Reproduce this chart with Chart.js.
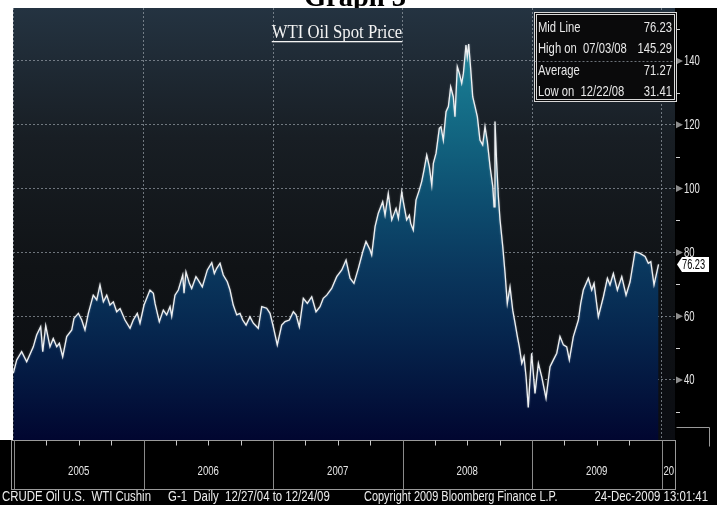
<!DOCTYPE html>
<html>
<head>
<meta charset="utf-8">
<script src="https://cdn.jsdelivr.net/npm/chart.js@4.4.1/dist/chart.umd.min.js"></script>
<style>
  html, body { margin: 0; padding: 0; background: #ffffff; }
  #wrap { position: relative; width: 717px; height: 505px; overflow: hidden; }
  canvas { display: block; }
</style>
</head>
<body>
<div id="wrap"><canvas id="c" width="717" height="505"></canvas></div>
<script>
// ---- data (x = decimal year, y = USD/bbl) ----
const dates2005 = [2004.995,2005.021,2005.059,2005.098,2005.149,2005.175,2005.206,2005.222,2005.245,2005.278,
  2005.303,2005.330,2005.350,2005.376,2005.407,2005.446,2005.463,2005.497,2005.523,2005.548,
  2005.574,2005.612,2005.639,2005.664,2005.690,2005.716,2005.741,2005.767,2005.793,2005.819,
  2005.857,2005.896,2005.921,2005.952,2005.973];
const prices2005 = [42.2,46.3,48.9,45.7,50.4,54.1,56.7,48.9,57.0,50.4,
  53.0,50.4,51.5,47.3,53.6,55.7,59.3,60.9,58.8,55.7,
  60.9,66.6,65.1,69.8,64.5,66.6,63.5,64.5,61.4,62.4,
  58.8,56.2,58.8,60.9,57.8];
const dates2006 = [2006.004,2006.050,2006.076,2006.089,2006.122,2006.153,2006.179,2006.205,2006.218,2006.243,
  2006.269,2006.303,2006.313,2006.328,2006.354,2006.372,2006.405,2006.423,2006.454,2006.493,
  2006.527,2006.547,2006.565,2006.591,2006.616,2006.647,2006.668,2006.693,2006.720,2006.745,
  2006.766,2006.792,2006.822,2006.848,2006.886,2006.913,2006.951,2006.977];
const prices2006 = [63.5,68.2,67.2,64.0,58.3,61.9,60.4,63.0,60.0,66.6,
  68.2,72.9,67.2,73.9,70.3,68.7,72.4,71.3,69.2,74.5,
  76.8,73.4,75.0,76.6,72.9,70.8,68.2,63.5,60.4,60.9,
  58.8,57.2,59.8,57.8,56.2,63.0,62.5,60.9];
const dates2007 = [2007.002,2007.033,2007.067,2007.093,2007.126,2007.157,2007.178,2007.203,2007.234,2007.265,
  2007.299,2007.332,2007.363,2007.388,2007.415,2007.453,2007.492,2007.531,2007.564,2007.595,
  2007.625,2007.659,2007.693,2007.718,2007.749,2007.762,2007.788,2007.813,2007.847,2007.865,
  2007.890,2007.917,2007.950,2007.968,2007.994];
const prices2007 = [56.7,51.0,57.2,58.3,58.8,61.4,60.4,56.7,65.6,64.0,
  66.1,61.4,63.0,65.6,66.6,68.7,72.4,74.5,77.6,71.9,
  70.3,75.0,80.2,83.4,80.8,79.2,88.1,92.3,95.9,91.7,
  98.5,90.2,93.8,90.7,99.0];
const dates2008 = [2008.006,2008.032,2008.053,2008.063,2008.083,2008.104,2008.130,2008.148,2008.166,2008.187,
  2008.207,2008.226,2008.238,2008.259,2008.284,2008.297,2008.315,2008.336,2008.354,2008.372,
  2008.392,2008.405,2008.423,2008.439,2008.457,2008.470,2008.490,2008.500,2008.511,2008.527,
  2008.542,2008.560,2008.578,2008.598,2008.619,2008.637,2008.655,2008.676,2008.697,2008.707,
  2008.714,2008.727,2008.740,2008.753,2008.774,2008.792,2008.809,2008.830,2008.851,2008.869,
  2008.887,2008.902,2008.921,2008.938,2008.954,2008.971,2008.997];
const prices2008 = [95.9,90.2,91.7,89.1,87.0,96.4,99.6,102.2,105.8,110.5,
  106.9,101.1,107.9,111.1,118.9,119.4,115.2,124.1,125.7,131.9,
  128.8,122.5,138.2,136.1,133.0,136.1,145.0,141.3,145.3,137.2,
  128.8,125.7,122.5,115.2,113.7,119.4,114.7,106.9,100.6,94.3,
  121.0,107.9,97.5,90.2,81.8,73.4,64.0,69.2,61.9,57.8,
  53.6,50.4,45.2,47.3,41.0,31.4,48.4];
const dates2009 = [2009.023,2009.049,2009.075,2009.108,2009.139,2009.165,2009.191,2009.216,2009.242,2009.268,
  2009.288,2009.319,2009.358,2009.376,2009.396,2009.435,2009.461,2009.479,2009.512,2009.551,
  2009.582,2009.602,2009.628,2009.659,2009.693,2009.726,2009.757,2009.795,2009.834,2009.873,
  2009.898,2009.917,2009.942,2009.977];
const prices2009 = [35.8,45.2,41.0,34.3,44.2,46.3,48.4,53.6,51.0,50.4,
  46.3,53.6,58.8,64.0,68.2,71.9,68.2,70.3,59.8,66.1,
  71.9,69.8,73.4,68.2,72.4,66.6,70.8,80.2,79.7,78.7,
  76.6,77.1,69.8,76.23];

const yTicks = [40, 60, 80, 100, 120, 140];
const yMinorTicks = [30, 50, 70, 90, 110, 130, 150];
const yearTicks = [2005, 2006, 2007, 2008, 2009, 2010];
const yearLabels = ['2005', '2006', '2007', '2008', '2009'];
const quarterTicks = [0.25, 0.5, 0.75];
const statLabels = ['Mid Line', 'High on  07/03/08', 'Average', 'Low on  12/22/08'];
const statValues = ['76.23', '145.29', '71.27', '31.41'];
const lastValue = 76.23;
const chartTitle = 'WTI Oil Spot Price';
const pageTitle = 'Graph 3';
const footerParts = ['CRUDE Oil U.S.  WTI Cushin', 'G-1  Daily  12/27/04 to 12/24/09',
  'Copyright 2009 Bloomberg Finance L.P.', '24-Dec-2009 13:01:41'];

const allDates = [].concat(dates2005, dates2006, dates2007, dates2008, dates2009);
const allPrices = [].concat(prices2005, prices2006, prices2007, prices2008, prices2009);
const points = allDates.map((d, i) => ({ x: d, y: allPrices[i] }));

const SANS = '"Liberation Sans", Arial, sans-serif';
const SERIF = '"Liberation Serif", "Times New Roman", serif';

const X_MIN = 2004.9923, X_MAX = 2010.104;
const Y_MIN = 21.19, Y_MAX = 156.61;

function cText(ctx, text, x, y, align, sx) {
  ctx.save();
  ctx.translate(x, y);
  ctx.scale(sx, 1);
  ctx.textAlign = align;
  ctx.fillText(text, 0, 0);
  ctx.restore();
}

const decor = {
  id: 'decor',
  beforeDraw(chart) {
    const { ctx, chartArea: a, width, height } = chart;
    ctx.save();
    ctx.fillStyle = '#ffffff';
    ctx.fillRect(0, 0, width, height);
    ctx.fillStyle = '#000';
    ctx.font = 'bold 30px ' + SERIF;
    ctx.textBaseline = 'alphabetic';
    cText(ctx, pageTitle, 355, 6, 'center', 0.95);
    ctx.fillStyle = '#000000';
    ctx.fillRect(a.right, a.top, width - a.right, height - a.top);
    ctx.fillRect(0, a.bottom, width, height - a.bottom);
    const g = ctx.createLinearGradient(0, a.top, 0, a.bottom);
    g.addColorStop(0, '#243341');
    g.addColorStop(0.3, '#181e24');
    g.addColorStop(0.6, '#101316');
    g.addColorStop(1, '#0b0d12');
    ctx.fillStyle = g;
    ctx.fillRect(a.left, a.top, a.right - a.left, a.bottom - a.top);
    ctx.restore();
  },
  beforeDatasetDraw(chart) {
    chart.ctx.save();
    chart.ctx.shadowColor = 'rgba(190,200,210,0.55)';
    chart.ctx.shadowBlur = 2;
  },
  afterDatasetDraw(chart) {
    chart.ctx.restore();
  },
  afterDraw(chart) {
    const { ctx, chartArea: a } = chart;
    const xs = chart.scales.x, ys = chart.scales.y;
    ctx.save();

    // ---- bottom date band ----
    const bandTop = a.bottom + 0.5, bandBot = 489.5;
    ctx.lineWidth = 1;
    ctx.strokeStyle = '#9a9a9a';
    ctx.strokeRect(a.left - 1.5, bandTop, a.right - a.left + 2, bandBot - bandTop);
    yearTicks.forEach(y => {
      const px = Math.round(xs.getPixelForValue(y)) + 0.5;
      ctx.strokeStyle = '#8a8a8a';
      ctx.beginPath(); ctx.moveTo(px, bandTop); ctx.lineTo(px, bandBot); ctx.stroke();
      quarterTicks.forEach(q => {
        const qx = Math.round(xs.getPixelForValue(y + q)) + 0.5;
        if (qx < a.right) {
          ctx.strokeStyle = '#c8c8c8';
          ctx.beginPath(); ctx.moveTo(qx, bandTop); ctx.lineTo(qx, bandTop + 5); ctx.stroke();
        }
      });
    });
    ctx.fillStyle = '#e6e6e6';
    ctx.font = '12px ' + SANS;
    ctx.textBaseline = 'middle';
    yearLabels.forEach((lab, i) => {
      cText(ctx, lab, xs.getPixelForValue(yearTicks[i] + 0.5), 472, 'center', 0.8);
    });
    const x2010 = xs.getPixelForValue(2010);
    ctx.save();
    ctx.beginPath();
    ctx.rect(x2010, bandTop, a.right - 1 - x2010, bandBot - bandTop);
    ctx.clip();
    cText(ctx, '2010', x2010 + 2, 472, 'left', 0.8);
    ctx.restore();

    // small frame at the foot of the right axis
    ctx.strokeStyle = '#9a9a9a';
    ctx.beginPath();
    ctx.moveTo(a.right + 1.5, 427.5); ctx.lineTo(709.5, 427.5); ctx.lineTo(709.5, 446.5);
    ctx.stroke();

    // ---- footer ----
    ctx.fillStyle = '#ececec';
    ctx.font = '14px ' + SANS;
    ctx.textBaseline = 'middle';
    const fsx = 149 / ctx.measureText(footerParts[0]).width;
    cText(ctx, footerParts[0], 2, 497, 'left', fsx);
    cText(ctx, footerParts[1], 168, 497, 'left', fsx);
    cText(ctx, footerParts[2], 364, 497, 'left', fsx * 0.96);
    cText(ctx, footerParts[3], 708, 497, 'right', fsx);

    // ---- right axis: markers, labels ----
    ctx.font = '14px ' + SANS;
    ctx.textBaseline = 'middle';
    ys.ticks.forEach(t => {
      const py = ys.getPixelForValue(t.value);
      ctx.fillStyle = '#8c8c8c';
      ctx.beginPath();
      ctx.moveTo(a.right + 1, py - 3.5);
      ctx.lineTo(a.right + 8, py);
      ctx.lineTo(a.right + 1, py + 3.5);
      ctx.closePath();
      ctx.fill();
      ctx.fillStyle = '#e6e6e6';
      cText(ctx, String(t.value), a.right + 9, py + 0.5, 'left', 0.68);
    });
    ctx.strokeStyle = '#d0d0d0';
    yMinorTicks.forEach(v => {
      const py = Math.round(ys.getPixelForValue(v)) + 0.5;
      ctx.beginPath(); ctx.moveTo(a.right + 1, py); ctx.lineTo(a.right + 5, py); ctx.stroke();
    });

    // last value tag
    const ly = ys.getPixelForValue(lastValue);
    ctx.fillStyle = '#ffffff';
    ctx.beginPath();
    ctx.moveTo(a.right + 2, ly);
    ctx.lineTo(a.right + 7, ly - 7.5);
    ctx.lineTo(a.right + 34, ly - 7.5);
    ctx.lineTo(a.right + 34, ly + 7.5);
    ctx.lineTo(a.right + 7, ly + 7.5);
    ctx.closePath();
    ctx.fill();
    ctx.fillStyle = '#000';
    ctx.font = '14px ' + SANS;
    cText(ctx, lastValue.toFixed(2), a.right + 7, ly + 0.5, 'left', 0.66);

    // ---- stats box ----
    const bx = 534.5, by = 12.5, bw = 142, bh = 89;
    ctx.fillStyle = '#0a0a0b';
    ctx.fillRect(bx, by, bw, bh);
    ctx.strokeStyle = '#d8d8d8';
    ctx.strokeRect(bx, by, bw, bh);
    ctx.strokeRect(bx + 2, by + 2, bw - 4, bh - 4);
    ctx.font = '15px ' + SANS;
    ctx.fillStyle = '#e8e8e8';
    ctx.textBaseline = 'middle';
    statLabels.forEach((lab, i) => {
      const ry = 28 + i * 21.2;
      cText(ctx, lab, 538, ry, 'left', 0.75);
      cText(ctx, statValues[i], 672, ry, 'right', 0.75);
    });
    const g140 = Math.round(ys.getPixelForValue(140)) + 0.5;
    ctx.strokeStyle = 'rgba(150,158,166,0.7)';
    ctx.setLineDash([2, 2]);
    ctx.beginPath(); ctx.moveTo(bx, g140); ctx.lineTo(a.right, g140); ctx.stroke();
    ctx.setLineDash([]);

    // ---- chart title ----
    ctx.fillStyle = '#f4f4f4';
    ctx.font = '19px ' + SERIF;
    ctx.textBaseline = 'alphabetic';
    const tw = ctx.measureText(chartTitle).width * 0.88;
    cText(ctx, chartTitle, 337, 38, 'center', 0.88);
    ctx.fillRect(337 - tw / 2, 41, tw, 1.3);

    ctx.restore();
  }
};

const ctx = document.getElementById('c').getContext('2d');
new Chart(ctx, {
  type: 'line',
  data: {
    datasets: [{
      data: points,
      borderColor: '#eef0f2',
      borderWidth: 1.3,
      pointRadius: 0,
      tension: 0,
      fill: 'start',
      backgroundColor: (c) => {
        const a = c.chart.chartArea;
        if (!a) return '#0a375d';
        const g = c.chart.ctx.createLinearGradient(0, a.top, 0, a.bottom);
        g.addColorStop(0, '#1f93a9');
        g.addColorStop(0.1, '#1a8096');
        g.addColorStop(0.3, '#126480');
        g.addColorStop(0.45, '#0d4d6f');
        g.addColorStop(0.6, '#0a385e');
        g.addColorStop(0.75, '#06264e');
        g.addColorStop(0.9, '#03133c');
        g.addColorStop(1, '#010630');
        return g;
      }
    }]
  },
  options: {
    responsive: false,
    animation: false,
    devicePixelRatio: 1,
    layout: { padding: { left: 13, top: 8, right: 0, bottom: 15 } },
    plugins: { legend: { display: false }, tooltip: { enabled: false }, title: { display: false } },
    scales: {
      x: {
        type: 'linear', min: X_MIN, max: X_MAX,
        afterBuildTicks: s => { s.ticks = yearTicks.map(v => ({ value: v })); },
        afterFit: s => { s.height = 50; },
        grid: { color: 'rgba(150,158,166,0.7)', lineWidth: 1, drawTicks: false },
        border: { display: false, dash: [2, 2] },
        ticks: { display: false }
      },
      y: {
        position: 'right', min: Y_MIN, max: Y_MAX,
        afterBuildTicks: s => { s.ticks = yTicks.map(v => ({ value: v })); },
        afterFit: s => { s.width = 42; },
        grid: { color: 'rgba(150,158,166,0.7)', lineWidth: 1, drawTicks: false },
        border: { display: false, dash: [2, 2] },
        ticks: { display: false }
      }
    }
  },
  plugins: [decor]
});
</script>
</body>
</html>
